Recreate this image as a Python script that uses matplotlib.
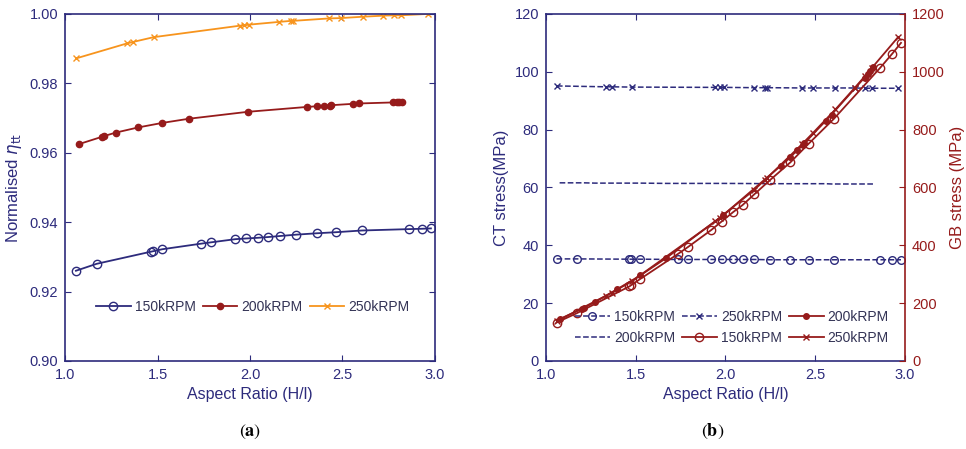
import matplotlib
matplotlib.use('Agg')
import matplotlib.pyplot as plt

navy = '#2d2b7c'
red = '#961b1b'
orange = '#f7941d'

plt.rcParams['font.family'] = ['Liberation Sans', 'DejaVu Sans']

# --- (a) normalised efficiency ---
x150 = [1.059, 1.171, 1.465, 1.474, 1.526, 1.735, 1.791, 1.921, 1.978, 2.043,
        2.095, 2.160, 2.249, 2.362, 2.463, 2.605, 2.861, 2.930, 2.978]
eta150 = [0.9260, 0.9280, 0.9315, 0.9316, 0.9322, 0.9338, 0.9342, 0.9351, 0.9353, 0.9355,
          0.9357, 0.9360, 0.9364, 0.9368, 0.9371, 0.9376, 0.9380, 0.9381, 0.9382]

x200 = [1.076, 1.200, 1.211, 1.274, 1.396, 1.526, 1.670, 1.989, 2.308, 2.361,
        2.400, 2.432, 2.440, 2.558, 2.591, 2.775, 2.793, 2.807, 2.823]
eta200 = [0.9625, 0.9646, 0.9648, 0.9658, 0.9673, 0.9686, 0.9698, 0.9718, 0.9732, 0.9734,
          0.9735, 0.9736, 0.9737, 0.9741, 0.9742, 0.9745, 0.9746, 0.9746, 0.9746]

x250 = [1.061, 1.335, 1.366, 1.479, 1.944, 1.969, 1.993, 2.157, 2.222, 2.234,
        2.427, 2.490, 2.613, 2.721, 2.777, 2.814, 2.962]
eta250 = [0.9872, 0.9915, 0.9919, 0.9933, 0.9966, 0.9967, 0.9969, 0.9977, 0.9980, 0.9980,
          0.9987, 0.9988, 0.9992, 0.9995, 0.9996, 0.9996, 1.0000]

# --- (b) stresses ---
ct150 = [35.3, 35.3, 35.2, 35.2, 35.2, 35.1, 35.1, 35.1, 35.1, 35.1,
         35.1, 35.1, 35.0, 35.0, 35.0, 35.0, 35.0, 35.0, 35.0]
ct200 = [61.6, 61.6, 61.6, 61.5, 61.5, 61.5, 61.4, 61.4, 61.3, 61.3,
         61.3, 61.3, 61.3, 61.3, 61.2, 61.2, 61.2, 61.2, 61.2]
ct250 = [95.1, 94.8, 94.8, 94.7, 94.6, 94.6, 94.6, 94.5, 94.5, 94.5,
         94.4, 94.4, 94.4, 94.4, 94.3, 94.3, 94.3]

gb150 = [133, 165, 258, 262, 284, 370, 394, 453, 482, 515,
         539, 576, 626, 687, 751, 838, 1013, 1063, 1100]
gb200 = [145, 180, 184, 204, 248, 296, 356, 505, 675, 705,
         728, 748, 753, 830, 852, 980, 992, 1003, 1015]
gb250 = [138, 226, 236, 276, 483, 495, 508, 590, 627, 634,
         750, 790, 870, 945, 985, 1012, 1120]

fig = plt.figure(figsize=(9.66, 4.49), dpi=100)
axa = fig.add_axes([0.0673, 0.196, 0.383, 0.773])
axb = fig.add_axes([0.5652, 0.196, 0.3716, 0.773])

def style(ax, col=navy):
    for s in ax.spines.values():
        s.set_color(col)
        s.set_linewidth(1.2)
    ax.tick_params(direction='in', colors=col, labelsize=10.5, length=4,
                   top=True, right=True, pad=5)

axa.plot(x150, eta150, '-o', color=navy, mfc='none', ms=6, lw=1.3, label='150kRPM')
axa.plot(x200, eta200, '-o', color=red, ms=4.5, lw=1.3, label='200kRPM')
axa.plot(x250, eta250, '-x', color=orange, ms=5, lw=1.3, label='250kRPM')
axa.set_xlim(1.0, 3.0)
axa.set_ylim(0.90, 1.00)
axa.set_xticks([1.0, 1.5, 2.0, 2.5, 3.0])
axa.set_yticks([0.90, 0.92, 0.94, 0.96, 0.98, 1.00])
axa.set_yticklabels(['0.90', '0.92', '0.94', '0.96', '0.98', '1.00'])
style(axa)
axa.set_xlabel('Aspect Ratio (H/l)', color=navy, fontsize=11.5, labelpad=4)
axa.set_ylabel(r'Normalised $\eta_{\rm tt}$', color=navy, fontsize=12, labelpad=4)
axa.legend(loc='lower right', bbox_to_anchor=(0.965, 0.1), ncol=3, frameon=False,
           fontsize=10, handlelength=2.5, columnspacing=0.5, handletextpad=0.3,
           labelcolor='#333355')

axb.plot(x150, ct150, '--o', color=navy, mfc='none', ms=5.5, lw=1.1, label='150kRPM')
axb.plot(x200, ct200, '--', color=navy, lw=1.1, label='200kRPM')
axb.plot(x250, ct250, '--x', color=navy, ms=4.5, lw=1.1, label='250kRPM')
axb.set_xlim(1.0, 3.0)
axb.set_ylim(0, 120)
axb.set_xticks([1.0, 1.5, 2.0, 2.5, 3.0])
axb.set_yticks(range(0, 121, 20))
style(axb)
axb.tick_params(right=False)
axb.set_xlabel('Aspect Ratio (H/l)', color=navy, fontsize=11.5, labelpad=4)
axb.set_ylabel('CT stress(MPa)', color=navy, fontsize=12, labelpad=4)

axr = axb.twinx()
axr.plot(x150, gb150, '-o', color=red, mfc='none', ms=6, lw=1.3, label='150kRPM')
axr.plot(x200, gb200, '-o', color=red, ms=4, lw=1.3, label='200kRPM')
axr.plot(x250, gb250, '-x', color=red, ms=5, lw=1.3, label='250kRPM')
axr.set_ylim(0, 1200)
axr.set_yticks(range(0, 1201, 200))
for s in axr.spines.values():
    s.set_visible(False)
axr.spines['right'].set_visible(True)
axr.spines['right'].set_color(red)
axr.spines['right'].set_linewidth(1.2)
axr.tick_params(direction='in', colors=red, labelsize=10.5, length=4, pad=5)
axr.set_ylabel('GB stress (MPa)', color=red, fontsize=12, labelpad=4)
axb.spines['right'].set_visible(False)

hb, lb = axb.get_legend_handles_labels()
hr, lr = axr.get_legend_handles_labels()
axr.legend(hb + hr, lb + lr, loc='lower right', bbox_to_anchor=(0.99, 0.01), ncol=3,
           frameon=False, fontsize=10, handlelength=2.5, columnspacing=0.5,
           handletextpad=0.3, labelspacing=0.5, labelcolor='#333355')

fig.text(0.259, 0.03, r'$(\mathbf{a})$', ha='center', fontsize=13,
         math_fontfamily='stix')
fig.text(0.738, 0.03, r'$(\mathbf{b})$', ha='center', fontsize=13,
         math_fontfamily='stix')

fig.savefig('out.png', dpi=100)
